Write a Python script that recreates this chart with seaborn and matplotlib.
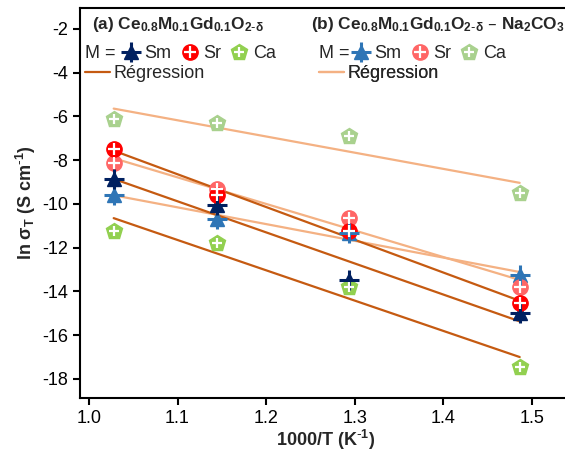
import numpy as np
import matplotlib
matplotlib.use('Agg')
import matplotlib.pyplot as plt
from matplotlib.lines import Line2D
import seaborn as sns

sns.set_style('ticks')
plt.rcParams['font.family'] = ['Liberation Sans', 'DejaVu Sans']
plt.rcParams['mathtext.default'] = 'regular'
plt.rcParams['axes.unicode_minus'] = False

# 1000/T for 973, 873, 773, 673 K
inv_t = [1.028, 1.145, 1.294, 1.486]

# (a) Ce0.8M0.1Gd0.1O2-d
a_sm = [-8.85, -10.05, -13.47, -15.00]
a_sr = [-7.49, -9.59, -11.23, -14.54]
a_ca = [-11.23, -11.80, -13.78, -17.44]
# (b) Ce0.8M0.1Gd0.1O2-d - Na2CO3
b_sm = [-9.59, -10.70, -11.31, -13.25]
b_sr = [-8.14, -9.31, -10.62, -13.78]
b_ca = [-6.11, -6.28, -6.89, -9.51]

dopants = ['Sm', 'Sr', 'Ca']
cols_a = {'Sm': '#002060', 'Sr': '#ff0000', 'Ca': '#92d050'}
cols_b = {'Sm': '#2e75b6', 'Sr': '#ff6666', 'Ca': '#a9d18e'}
reg_a = '#c55a11'
reg_b = '#f4b183'

W, H = 565, 457
fig = plt.figure(figsize=(W / 100, H / 100), dpi=100)
ax = fig.add_axes([80 / W, (H - 398) / H, 492 / W, 390 / H])


def marker_parts(m, c):
    # composite Excel-like markers: shape + cross
    if m == 'Sm':
        return [dict(marker='^', ms=10, mfc=c, mec=c, mew=1),
                dict(marker='+', ms=15, mec=c, mew=2.2)]
    if m == 'Sr':
        return [dict(marker='o', ms=11, mfc=c, mec=c, mew=1),
                dict(marker='+', ms=8, mec='white', mew=1.6)]
    return [dict(marker='p', ms=12, mfc=c, mec=c, mew=1),
            dict(marker='+', ms=7, mec='white', mew=1.6)]


series = [('b', 'Sm', b_sm), ('b', 'Sr', b_sr), ('b', 'Ca', b_ca),
          ('a', 'Sm', a_sm), ('a', 'Sr', a_sr), ('a', 'Ca', a_ca)]

# regression lines first
for grp, m, vals in series:
    sns.regplot(x=np.array(inv_t), y=np.array(vals), ax=ax, scatter=False, ci=None,
                truncate=True, color=reg_a if grp == 'a' else reg_b,
                line_kws=dict(lw=1.6, zorder=2))

for grp, m, vals in series:
    c = (cols_a if grp == 'a' else cols_b)[m]
    for k, p in enumerate(marker_parts(m, c)):
        ax.plot(inv_t, vals, ls='none', zorder=3 + k, **p)

ax.set_xlim(0.99, 1.545)
ax.set_ylim(-18.87, -1.04)
ax.set_xticks(np.arange(1.0, 1.51, 0.1))
ax.set_yticks(np.arange(-18, -1, 2))
ax.xaxis.set_major_formatter(matplotlib.ticker.FormatStrFormatter('%.1f'))
ax.tick_params(labelsize=13, width=1.5, length=5, color='black', labelcolor='black')
for s in ax.spines.values():
    s.set_linewidth(1.5)
    s.set_color('black')
ax.set_xlabel(r'1000/T (K$^{\text{-}1}$)', fontsize=13, fontweight='bold', labelpad=1)
ax.set_ylabel(r'ln σ$_T$ (S cm$^{\text{-}1}$)', fontsize=13, fontweight='bold', labelpad=3)


def fx(px):
    return px / W


def fy(py):
    return 1 - py / H


sub = r'Ce$_{0.8}$M$_{0.1}$Gd$_{0.1}$O$_{2\text{-}δ}$'
fig.text(fx(92), fy(25), '(a) ' + sub, fontsize=12.4, fontweight='bold', va='center')
fig.text(fx(311), fy(25), '(b) ' + sub + ' – Na$_2$CO$_3$',
         fontsize=12.4, fontweight='bold', va='center')

for grp, x0, xm in [('a', 85, 122), ('b', 319, 352)]:
    cmap = cols_a if grp == 'a' else cols_b
    fig.text(fx(x0), fy(54), 'M =', fontsize=13, va='center')
    handles = []
    for m in dopants:
        handles.append(tuple(Line2D([], [], ls='none', **p) for p in marker_parts(m, cmap[m])))
    leg = ax.legend(handles, dopants, ncol=3, frameon=False, fontsize=13,
                    loc='center left', bbox_to_anchor=(fx(xm), fy(54)),
                    bbox_transform=fig.transFigure, borderpad=0, borderaxespad=0,
                    handlelength=1.0, handletextpad=0.25, columnspacing=0.5)
    ax.add_artist(leg)
    rl = Line2D([], [], color=reg_a if grp == 'a' else reg_b, lw=1.6)
    leg2 = ax.legend([rl], ['Régression'], frameon=False, fontsize=13,
                     loc='center left', bbox_to_anchor=(fx(x0), fy(74)),
                     bbox_transform=fig.transFigure, borderpad=0, borderaxespad=0,
                     handlelength=1.4, handletextpad=0.2)
    ax.add_artist(leg2)

fig.savefig('out.png', dpi=100)
